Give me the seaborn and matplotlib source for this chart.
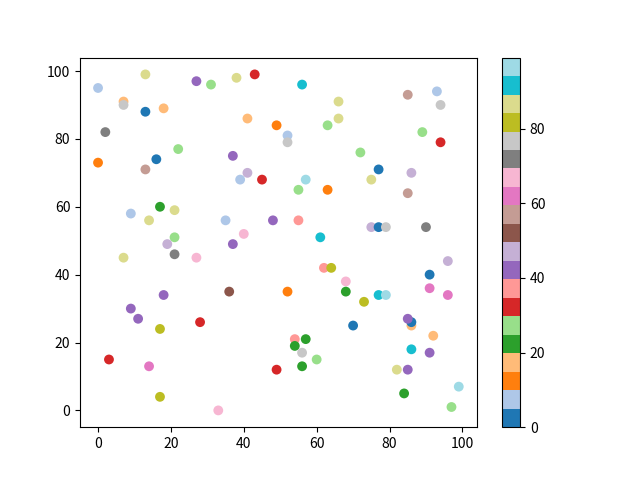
import matplotlib
matplotlib.use("Agg")
import matplotlib.pyplot as plt
import pandas as pd
import seaborn as sns
from matplotlib.colors import Normalize
from matplotlib.cm import ScalarMappable

xs = [0, 7, 7, 13, 13, 18, 2, 0, 16, 13,
      22, 27, 31, 38, 43, 56, 41, 49, 52, 52,
      37, 41, 39, 45, 57, 66, 66, 63, 85, 93,
      94, 89, 94, 72, 77, 86, 75, 17, 21, 9,
      14, 21, 19, 21, 7, 27, 18, 9, 55, 63,
      35, 48, 55, 40, 37, 61, 62, 64, 36, 52,
      85, 75, 77, 79, 90, 96, 91, 91, 96, 68,
      68, 73, 77, 79, 11, 17, 28, 3, 14, 17,
      54, 57, 54, 56, 60, 56, 49, 33, 70, 86,
      86, 85, 92, 86, 91, 82, 85, 84, 99, 97]
ys = [95, 91, 90, 99, 88, 89, 82, 73, 74, 71,
      77, 97, 96, 98, 99, 96, 86, 84, 81, 79,
      75, 70, 68, 68, 68, 91, 86, 84, 93, 94,
      90, 82, 79, 76, 71, 70, 68, 60, 59, 58,
      56, 51, 49, 46, 45, 45, 34, 30, 65, 65,
      56, 56, 56, 52, 49, 51, 42, 42, 35, 35,
      64, 54, 54, 54, 54, 44, 40, 36, 34, 38,
      35, 32, 34, 34, 27, 24, 26, 15, 13, 4,
      21, 21, 19, 17, 15, 13, 12, 0, 25, 25,
      26, 27, 22, 18, 17, 12, 12, 5, 7, 1]
colors = [7, 17, 77, 87, 0, 17, 72, 12, 2, 57,
          27, 42, 27, 87, 32, 92, 17, 12, 7, 77,
          42, 47, 7, 32, 97, 87, 87, 27, 57, 7,
          77, 27, 32, 27, 2, 47, 87, 22, 87, 7,
          87, 27, 47, 72, 87, 67, 42, 42, 27, 12,
          7, 42, 37, 67, 42, 92, 37, 82, 52, 12,
          57, 47, 2, 77, 72, 47, 2, 62, 62, 67,
          22, 82, 92, 97, 42, 82, 32, 32, 62, 82,
          37, 22, 22, 77, 27, 22, 32, 67, 2, 17,
          2, 42, 17, 92, 42, 87, 42, 22, 99, 27]

df = pd.DataFrame({"x": xs, "y": ys, "c": colors})

plt.rcParams["font.family"] = ["Noto Sans CJK SC", "DejaVu Sans"]
plt.rcParams["axes.unicode_minus"] = False

cmap = plt.get_cmap("tab20")
norm = Normalize(vmin=min(colors), vmax=max(colors))

fig, ax = plt.subplots(figsize=(6.4, 4.8), dpi=100)
sns.scatterplot(data=df, x="x", y="y", hue="c", palette=cmap, hue_norm=norm,
                s=50, linewidth=0, legend=False, ax=ax)
ax.set_xlabel("")
ax.set_ylabel("")
fig.colorbar(ScalarMappable(norm=norm, cmap=cmap), ax=ax)
plt.savefig("out.png", dpi=100)
